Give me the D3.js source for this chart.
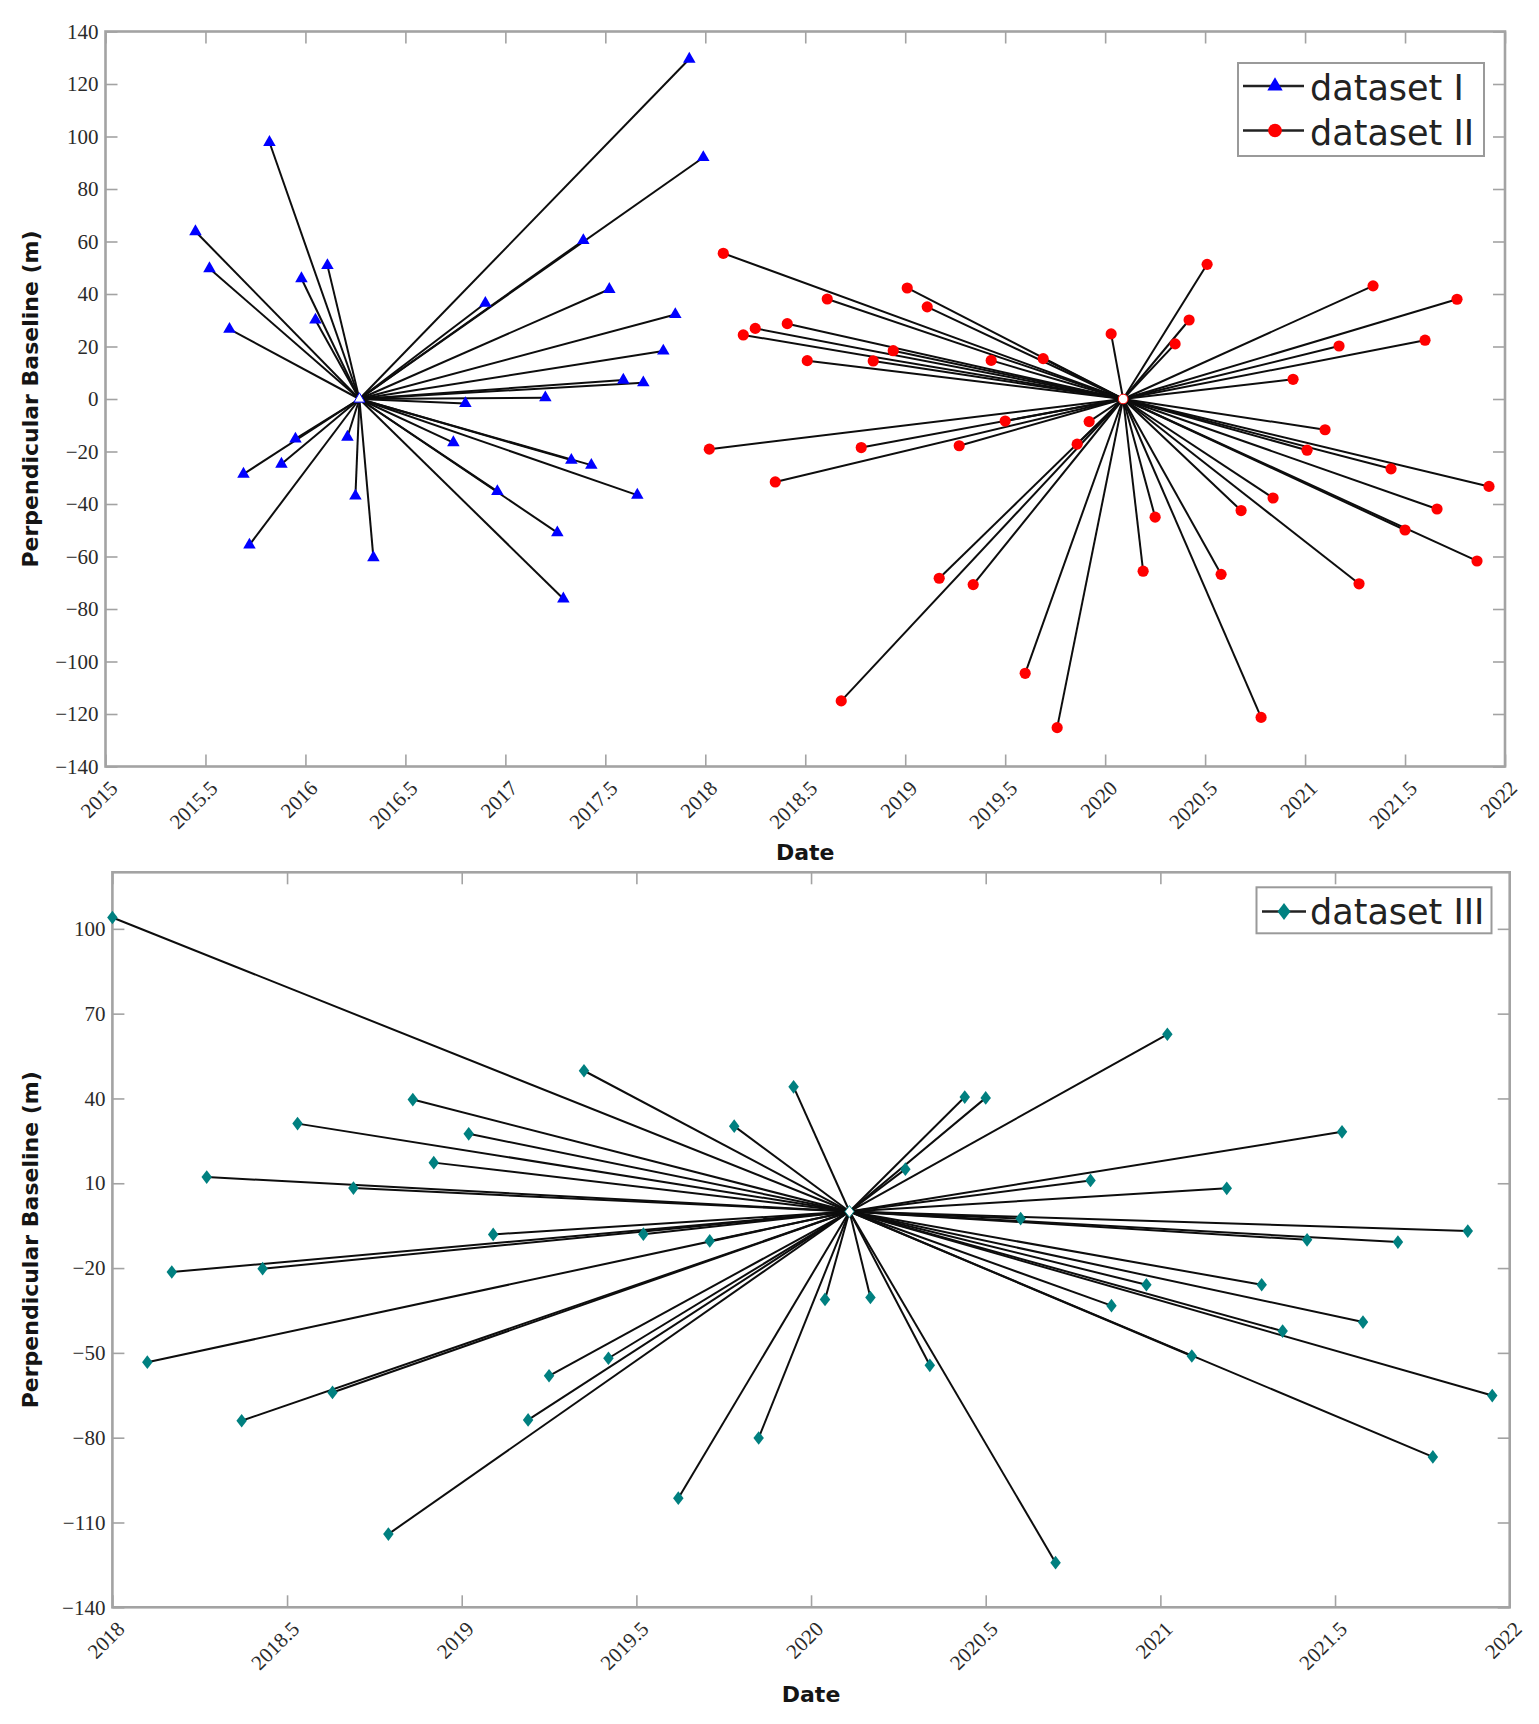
<!DOCTYPE html>
<html>
<head>
<meta charset="utf-8">
<script src="https://cdn.jsdelivr.net/npm/d3@7"></script>
<style>
  html, body { margin: 0; padding: 0; background: #ffffff; }
  svg { display: block; }
</style>
</head>
<body>
<svg id="chart" width="1539" height="1724"></svg>
<script>
// ---------------- DATA ----------------
// dataset I (top panel) : master acquisition + slave acquisitions
const datasetIMaster = [2016.27, 0];
const datasetIDates = [2017.92, 2017.99, 2015.82, 2015.45, 2015.52, 2015.62, 2015.98, 2016.11, 2016.05, 2017.39,
  2016.90, 2017.52, 2017.85, 2017.79, 2017.59, 2017.69, 2017.20, 2016.80, 2015.95, 2015.88,
  2015.69, 2015.72, 2016.21, 2016.25, 2016.34, 2016.74, 2016.96, 2017.33, 2017.43, 2017.66,
  2017.26, 2017.29];
const datasetIBaselines = [129.5, 92.0, 97.8, 63.8, 49.7, 26.6, 45.9, 50.9, 30.1, 60.4,
  36.5, 41.8, 32.2, 18.3, 7.2, 6.2, 0.5, -1.7, -15.2, -24.8,
  -28.6, -55.6, -14.5, -36.9, -60.4, -16.6, -35.2, -23.3, -25.2, -36.6,
  -50.9, -76.1];

// dataset II (top panel)
const datasetIIMaster = [2020.09, 0];
const datasetIIDates = [2018.09, 2019.01, 2018.61, 2019.11, 2018.25, 2018.19, 2018.41, 2018.94, 2018.51, 2018.84,
  2019.43, 2019.69, 2020.03, 2020.51, 2020.42, 2020.35, 2021.34, 2021.76, 2021.17, 2021.60,
  2020.94, 2018.02, 2018.78, 2019.27, 2018.35, 2019.50, 2019.92, 2019.86, 2019.17, 2019.34,
  2018.68, 2019.60, 2019.76, 2020.19, 2020.25, 2020.58, 2020.68, 2020.78, 2020.84, 2021.10,
  2021.01, 2021.43, 2021.66, 2021.92, 2021.50, 2021.86, 2021.27];
const datasetIIBaselines = [55.5, 42.3, 38.1, 35.1, 26.9, 24.4, 28.7, 18.4, 14.6, 14.5,
  14.7, 15.4, 24.8, 51.3, 30.1, 21.0, 43.1, 38.0, 20.2, 22.4,
  7.5, -19.1, -18.5, -17.8, -31.6, -8.4, -8.6, -17.2, -68.3, -70.7,
  -115.0, -104.5, -125.2, -65.6, -45.0, -66.8, -42.5, -121.3, -37.7, -11.7,
  -19.5, -26.6, -41.9, -33.3, -49.9, -61.7, -70.4];

// dataset III (bottom panel)
const datasetIIIMaster = [2020.11, 0];
const datasetIIIDates = [2018.00, 2019.35, 2019.95, 2018.86, 2018.53, 2019.02, 2019.78, 2018.92, 2018.27, 2018.69,
  2019.09, 2019.52, 2019.71, 2018.17, 2018.43, 2018.10, 2018.37, 2018.63, 2018.79, 2019.19,
  2019.25, 2019.42, 2019.62, 2019.85, 2020.04, 2020.44, 2020.50, 2021.02, 2020.27, 2021.52,
  2020.80, 2021.19, 2020.60, 2021.88, 2021.42, 2021.68, 2020.96, 2021.29, 2020.17, 2020.34,
  2020.70, 2020.86, 2021.58, 2021.35, 2021.09, 2021.95, 2021.78];
const datasetIIIBaselines = [104.0, 49.8, 44.1, 39.6, 31.1, 27.5, 30.2, 17.3, 12.2, 8.3,
  -8.1, -8.0, -10.4, -21.4, -20.2, -53.3, -74.0, -64.0, -114.1, -73.7,
  -58.1, -51.9, -101.4, -80.1, -31.1, 40.5, 40.2, 62.7, 15.0, 28.2,
  11.0, 8.2, -2.5, -6.9, -10.0, -10.8, -25.9, -25.9, -30.4, -54.4,
  -124.2, -33.3, -39.1, -42.3, -51.1, -65.1, -86.8];

// tick values
const topXTicks = [2015, 2015.5, 2016, 2016.5, 2017, 2017.5, 2018, 2018.5, 2019, 2019.5, 2020, 2020.5, 2021, 2021.5, 2022];
const topYTicks = [-140, -120, -100, -80, -60, -40, -20, 0, 20, 40, 60, 80, 100, 120, 140];
const bottomXTicks = [2018, 2018.5, 2019, 2019.5, 2020, 2020.5, 2021, 2021.5, 2022];
const bottomYTicks = [-140, -110, -80, -50, -20, 10, 40, 70, 100];

const seriesNames = ["dataset I", "dataset II", "dataset III"];
const xAxisTitle = "Date";
const yAxisTitle = "Perpendicular Baseline (m)";

// ---------------- STYLE / LAYOUT ----------------
const axisColor = "#a3a3a3";
const tickTextColor = "#2a2a2a";
const lineColor = "#0d0d0d";

const svg = d3.select("#chart");

// custom elongated diamond symbol
const tallDiamond = {
  draw(context, size) {
    const w = Math.sqrt(size) * 0.46, h = Math.sqrt(size) * 0.6;
    context.moveTo(0, -h);
    context.lineTo(w, 0);
    context.lineTo(0, h);
    context.lineTo(-w, 0);
    context.closePath();
  }
};

const markerStyles = {
  "dataset I": { color: "#0000ff", type: d3.symbolTriangle, size: 68 },
  "dataset II": { color: "#ff0000", type: d3.symbolCircle, size: 98 },
  "dataset III": { color: "#008080", type: tallDiamond, size: 130 }
};

const fmt = v => String(v).replace("-", "\u2212");

const panels = [
  {
    left: 105.5, right: 1505, top: 31.5, bottom: 766.5,
    xDomain: [2015, 2022], yDomain: [-140, 140],
    xTicks: topXTicks, yTicks: topYTicks,
    series: [
      { name: seriesNames[0], master: datasetIMaster, dates: datasetIDates, values: datasetIBaselines },
      { name: seriesNames[1], master: datasetIIMaster, dates: datasetIIDates, values: datasetIIBaselines }
    ],
    legend: { x: 1238, y: 63, w: 246, h: 93, rows: [86, 130.5], baselines: [100, 144.5], lx1: 1243, lx2: 1304, mx: 1275, tx: 1310 },
    xTitleY: 860
  },
  {
    left: 112.4, right: 1509.7, top: 872.3, bottom: 1607.3,
    xDomain: [2018, 2022], yDomain: [-140, 120],
    xTicks: bottomXTicks, yTicks: bottomYTicks,
    series: [
      { name: seriesNames[2], master: datasetIIIMaster, dates: datasetIIIDates, values: datasetIIIBaselines }
    ],
    legend: { x: 1256.5, y: 887.3, w: 235, h: 46, rows: [911.5], baselines: [923.5], lx1: 1262, lx2: 1306, mx: 1284, tx: 1310 },
    xTitleY: 1702
  }
];

panels.forEach(p => {
  const x = d3.scaleLinear().domain(p.xDomain).range([p.left, p.right]);
  const y = d3.scaleLinear().domain(p.yDomain).range([p.bottom, p.top]);
  const g = svg.append("g");

  g.append("rect")
    .attr("x", p.left).attr("y", p.top)
    .attr("width", p.right - p.left).attr("height", p.bottom - p.top)
    .attr("fill", "#ffffff");

  const gx = g.append("g").attr("transform", `translate(0,${p.bottom})`)
    .call(d3.axisBottom(x).tickValues(p.xTicks).tickSize(-12).tickFormat(fmt));
  gx.select(".domain").remove();
  gx.selectAll(".tick line").attr("stroke", axisColor).attr("stroke-width", 1.6);
  gx.selectAll(".tick text")
    .attr("x", 0).attr("y", 0).attr("dy", 0)
    .attr("text-anchor", "end")
    .attr("transform", "translate(13,23) rotate(-45)")
    .attr("fill", tickTextColor)
    .style("font-family", "'Liberation Serif', 'DejaVu Serif', serif")
    .style("font-size", "21px");

  const gy = g.append("g").attr("transform", `translate(${p.left},0)`)
    .call(d3.axisLeft(y).tickValues(p.yTicks).tickSize(-12).tickPadding(7).tickFormat(fmt));
  gy.select(".domain").remove();
  gy.selectAll(".tick line").attr("stroke", axisColor).attr("stroke-width", 1.6);
  gy.selectAll(".tick text")
    .attr("fill", tickTextColor)
    .style("font-family", "'Liberation Serif', 'DejaVu Serif', serif")
    .style("font-size", "21px");

  const gt = g.append("g").attr("transform", `translate(0,${p.top})`)
    .call(d3.axisTop(x).tickValues(p.xTicks).tickSize(-12).tickFormat(""));
  gt.select(".domain").remove();
  gt.selectAll(".tick line").attr("stroke", axisColor).attr("stroke-width", 1.6);
  const gr = g.append("g").attr("transform", `translate(${p.right},0)`)
    .call(d3.axisRight(y).tickValues(p.yTicks).tickSize(-12).tickFormat(""));
  gr.select(".domain").remove();
  gr.selectAll(".tick line").attr("stroke", axisColor).attr("stroke-width", 1.6);

  g.append("rect")
    .attr("x", p.left).attr("y", p.top)
    .attr("width", p.right - p.left).attr("height", p.bottom - p.top)
    .attr("fill", "none").attr("stroke", axisColor).attr("stroke-width", 2.6);

  p.series.forEach(s => {
    const pts = s.dates.map((d, i) => [d, s.values[i]]);
    g.append("g").selectAll("line").data(pts).join("line")
      .attr("x1", x(s.master[0])).attr("y1", y(s.master[1]))
      .attr("x2", d => x(d[0])).attr("y2", d => y(d[1]))
      .attr("stroke", lineColor).attr("stroke-width", 2);
  });

  p.series.forEach(s => {
    const st = markerStyles[s.name];
    const sym = d3.symbol().type(st.type).size(st.size);
    const pts = s.dates.map((d, i) => [d, s.values[i]]);
    g.append("g").selectAll("path").data(pts).join("path")
      .attr("d", sym)
      .attr("transform", d => `translate(${x(d[0])},${y(d[1])})`)
      .attr("fill", st.color);
    g.append("path")
      .attr("d", d3.symbol().type(st.type).size(st.size * 0.75))
      .attr("transform", `translate(${x(s.master[0])},${y(s.master[1])})`)
      .attr("fill", "#ffffff").attr("stroke", st.color).attr("stroke-width", 1);
  });

  g.append("text")
    .attr("transform", `translate(38,${(p.top + p.bottom) / 2}) rotate(-90)`)
    .attr("text-anchor", "middle")
    .attr("fill", "#151515")
    .style("font-family", "'DejaVu Sans', sans-serif")
    .style("font-weight", "bold")
    .style("font-size", "22px")
    .text(yAxisTitle);
  g.append("text")
    .attr("x", (p.left + p.right) / 2).attr("y", p.xTitleY)
    .attr("text-anchor", "middle")
    .attr("fill", "#151515")
    .style("font-family", "'DejaVu Sans', sans-serif")
    .style("font-weight", "bold")
    .style("font-size", "22px")
    .text(xAxisTitle);

  const L = p.legend;
  const lg = g.append("g");
  lg.append("rect")
    .attr("x", L.x).attr("y", L.y).attr("width", L.w).attr("height", L.h)
    .attr("fill", "#ffffff").attr("stroke", "#9a9a9a").attr("stroke-width", 2);
  p.series.forEach((s, i) => {
    const st = markerStyles[s.name];
    lg.append("line")
      .attr("x1", L.lx1).attr("x2", L.lx2).attr("y1", L.rows[i]).attr("y2", L.rows[i])
      .attr("stroke", "#222").attr("stroke-width", 2.6);
    lg.append("path")
      .attr("d", d3.symbol().type(st.type).size(st.size * 1.5))
      .attr("transform", `translate(${L.mx},${L.rows[i]})`)
      .attr("fill", st.color);
    lg.append("text")
      .attr("x", L.tx).attr("y", L.baselines[i])
      .attr("fill", "#222")
      .style("font-family", "'DejaVu Sans', sans-serif")
      .style("font-size", "35px")
      .text(s.name);
  });
});
</script>
</body>
</html>
